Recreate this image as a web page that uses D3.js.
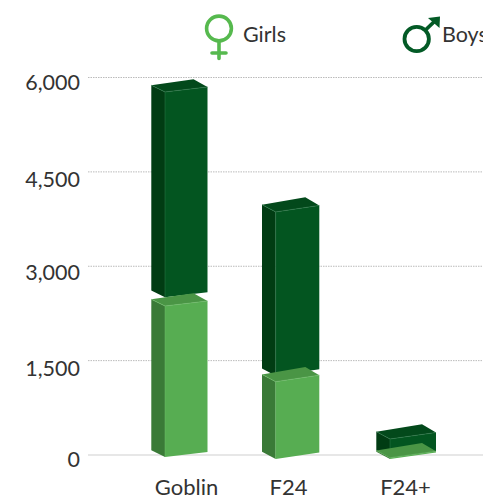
<!DOCTYPE html>
<meta charset="utf-8">
<style>
  html, body { margin: 0; background: #fff; overflow: hidden; }
  svg { display: block; }
  text { font-family: Lato, "Open Sans", sans-serif; fill: #333; }
</style>
<body>
  <svg width="483" height="500"></svg>
  <script src="https://cdn.jsdelivr.net/npm/d3@7"></script>
  <script>
    const categories = ["Goblin", "F24", "F24+"];
    const girls = [2400, 1229, 20];
    const boys = [3264, 2603, 298];
    // white space the chart leaves between the two parts of a bar
    const stackGap = [138, 95, 0];
    const yTicks = [0, 1500, 3000, 4500, 6000];

    const svg = d3.select("svg");
    const idx = categories.map((d, i) => i);

    const y = d3.scaleLinear().domain([0, 6000]).range([454.5, 77]);

    // slight perspective, so the bars are not evenly spaced
    const frontLeft = d3.scaleOrdinal().domain(idx).range([165, 275.7, 390]);
    const frontRight = d3.scaleOrdinal().domain(idx).range([207.5, 319.3, 436]);
    const labelX = d3.scaleOrdinal().domain(categories).range([186, 288, 405]);
    const drop = d3.scaleOrdinal().domain(idx).range([2.5, 4.5, 4.5]);
    const rise = d3.scaleOrdinal().domain(idx).range([5, 6.5, 6.5]);
    const depthY = d3.scaleOrdinal().domain(idx).range([6.7, 7.3, 7.3]);
    // the tick labels do not sit evenly against their grid lines
    const labelNudge = d3.scaleOrdinal().domain(yTicks).range([12, 15, 14, 15, 12]);

    // y axis with dotted grid
    const yAxis = svg.append("g")
      .attr("transform", "translate(88,0)")
      .call(d3.axisLeft(y).tickValues(yTicks).tickSize(-395).tickPadding(8).tickFormat(d3.format(",")));
    yAxis.select(".domain").remove();
    yAxis.selectAll("line")
      .attr("stroke", d => d === 0 ? "#cfcfcf" : "#bbb")
      .attr("stroke-dasharray", d => d === 0 ? null : "1.5,1");
    yAxis.selectAll("text")
      .attr("dy", 0)
      .attr("y", d => labelNudge(d))
      .style("font-size", "21.5px")
      .style("font-family", "Lato");

    const xAxis = svg.append("g")
      .attr("transform", "translate(0,495)")
      .call(d3.axisBottom(labelX).tickSize(0).tickPadding(0));
    xAxis.select(".domain").remove();
    xAxis.selectAll("text")
      .attr("dy", 0)
      .attr("y", 0)
      .style("font-size", "22px")
      .style("font-family", "Lato");

    const pts = a => a.map(p => p.join(",")).join(" ");

    // one box from value v0 up to value v1
    function box(g, i, v0, v1, col) {
      const fl = frontLeft(i), fr = frontRight(i), l = fl - 13.7, b = fr - 14;
      const y0 = y(v0) + drop(i), y1 = y(v1) + drop(i);
      const r = rise(i), d = depthY(i);
      g.append("polygon").attr("fill", col.side)
        .attr("points", pts([[l, y1 - d], [fl, y1], [fl, y0], [l, y0 - d]]));
      g.append("polygon").attr("fill", col.front)
        .attr("points", pts([[fl, y1], [fr, y1 - r], [fr, y0 - r], [fl, y0]]));
      g.append("polygon").attr("fill", col.top)
        .attr("points", pts([[l, y1 - d], [b, y1 - d - r - 1], [fr, y1 - r], [fl, y1]]));
      g.append("polyline").attr("fill", "none").attr("stroke", col.edge).attr("stroke-width", 0.6)
        .attr("points", pts([[l, y1 - d], [fl, y1], [fr, y1 - r]]));
      g.append("line").attr("stroke", col.edge).attr("stroke-width", 0.5)
        .attr("x1", fl).attr("x2", fl).attr("y1", y1).attr("y2", y0);
    }

    const dark = { front: "#035520", side: "#013c13", top: "#03491b", edge: "#2f7a4b" };
    const light = { front: "#57ad52", side: "#3a7a37", top: "#4a9545", edge: "#6fbd69" };

    idx.forEach(i => {
      const g = svg.append("g").attr("class", "bar");
      const base = girls[i] + stackGap[i];
      box(g, i, base, base + boys[i], dark);
      box(g, i, 0, girls[i], light);
    });

    // legend
    const female = svg.append("g").attr("fill", "none").attr("stroke", "#56b94e").attr("stroke-width", 3.6);
    female.append("circle").attr("cx", 219).attr("cy", 28.5).attr("r", 12.4);
    female.append("path").attr("d", "M219 41V58.5M212 53H226").attr("stroke-linecap", "round");
    svg.append("text").attr("x", 243).attr("y", 42).style("font-size", "21.5px").text("Girls");

    const male = svg.append("g").attr("fill", "none").attr("stroke", "#035a26").attr("stroke-width", 3.8);
    male.append("circle").attr("cx", 416.7).attr("cy", 39).attr("r", 12.2);
    male.append("path").attr("d", "M425.5 30L437 19");
    svg.append("polygon").attr("fill", "#035a26").attr("points", "428,18 440,16.5 439.5,28");
    svg.append("text").attr("x", 442).attr("y", 42).style("font-size", "21.5px").text("Boys");
  </script>
</body>
